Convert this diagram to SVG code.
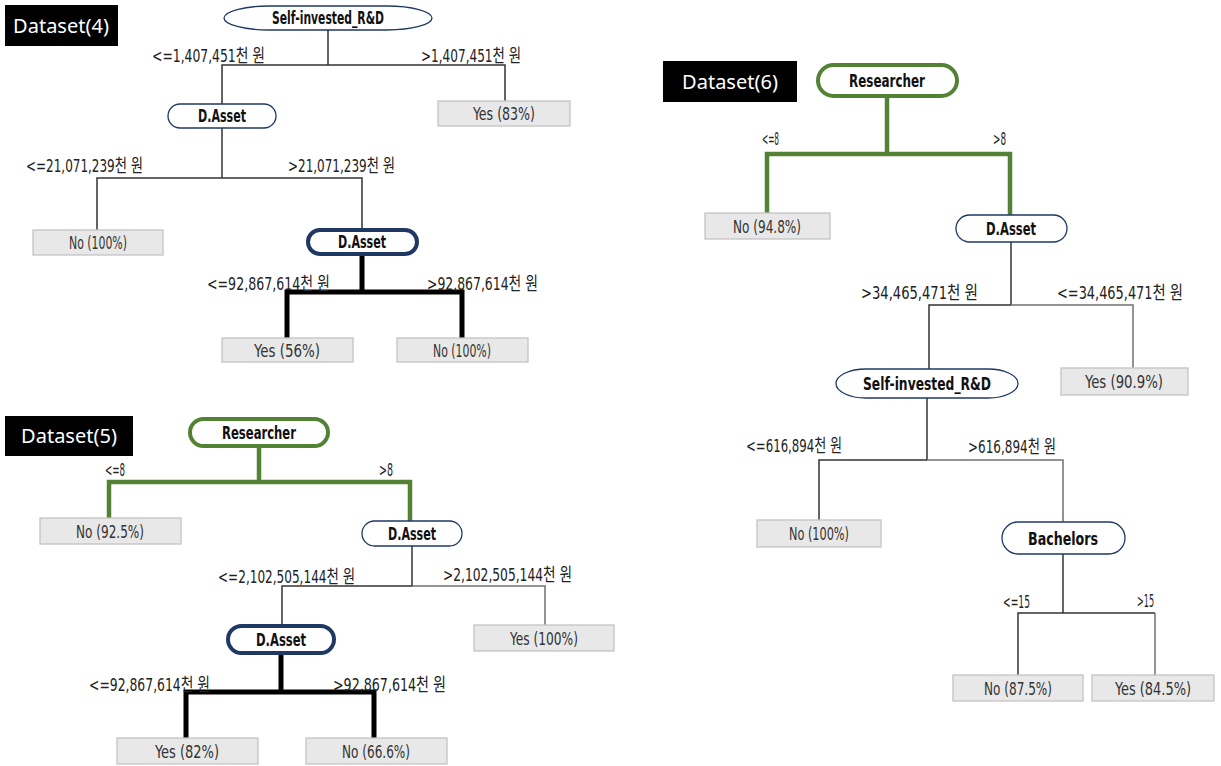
<svg xmlns="http://www.w3.org/2000/svg" width="1221" height="766" viewBox="0 0 1221 766">
<style>
.bg{fill:#fff}
.tag{fill:#000}
.tagt{fill:#fff;font-family:"Noto Sans","Open Sans",sans-serif;font-size:20px;text-anchor:middle}
.n{fill:#fff;stroke:#1f3864;stroke-width:1.3}
.nb{fill:#fff;stroke:#1f3864;stroke-width:4}
.ng{fill:#fff;stroke:#548235;stroke-width:4}
.nt{font-family:"DejaVu Sans Condensed","Liberation Sans",sans-serif;font-weight:bold;font-size:17px;fill:#111;text-anchor:middle}
.leaf{fill:#e8e8e8;stroke:#c4c4c4;stroke-width:1.3}
.lt{font-family:"DejaVu Sans Condensed","Liberation Sans",sans-serif;font-size:17px;fill:#333;text-anchor:middle}
.c{font-family:"DejaVu Sans Condensed","Liberation Sans","Noto Sans CJK KR",sans-serif;font-size:18px;fill:#222}
.e{fill:none;stroke:#333;stroke-width:1.5}
.eg{fill:none;stroke:#707070;stroke-width:1.5}
.ek{fill:none;stroke:#000;stroke-width:5}
.egr{fill:none;stroke:#548235;stroke-width:4.5}
</style>
<rect class="bg" x="0" y="0" width="1221" height="766"/>

<g id="connectors">
  <!-- Dataset 4 -->
  <polyline class="e" points="328,30 328,65"/>
  <polyline class="e" points="222,104 222,65 505,65 505,101"/>
  <polyline class="e" points="222,128 222,178"/>
  <polyline class="e" points="97,230 97,178 362,178 362,230"/>
  <polyline class="ek" points="362,254 362,292"/>
  <polyline class="ek" points="287,338 287,292 462,292 462,338"/>
  <!-- Dataset 5 -->
  <polyline class="egr" points="259,446 259,481"/>
  <polyline class="egr" points="109,518 109,482 410,482 410,521"/>
  <polyline class="e" points="412,546 412,586"/>
  <polyline class="e" points="282,626 282,586 412,586"/>
  <polyline class="eg" points="412,586 545,586 545,625"/>
  <polyline class="ek" points="281,653 281,692"/>
  <polyline class="ek" points="186,738 186,692 374,692 374,738"/>
  <!-- Dataset 6 -->
  <polyline class="egr" points="887,96 887,154"/>
  <polyline class="egr" points="767,213 767,154 1010,154 1010,215"/>
  <polyline class="e" points="1011,242 1011,305"/>
  <polyline class="e" points="929,369 929,305 1011,305"/>
  <polyline class="eg" points="1011,305 1133,305 1133,368"/>
  <polyline class="e" points="927,398 927,460"/>
  <polyline class="e" points="819,520 819,460 927,460"/>
  <polyline class="eg" points="927,460 1063,460 1063,522"/>
  <polyline class="e" points="1063,554 1063,613"/>
  <polyline class="e" points="1018,675 1018,613 1155,613"/>
  <polyline class="eg" points="1155,613 1155,675"/>
</g>

<g id="edge-labels">
  <text class="c" x="152" y="62" textLength="113" lengthAdjust="spacingAndGlyphs">&lt;=1,407,451천 원</text>
  <text class="c" x="421" y="62" textLength="100" lengthAdjust="spacingAndGlyphs">&gt;1,407,451천 원</text>
  <text class="c" x="26" y="172" textLength="117" lengthAdjust="spacingAndGlyphs">&lt;=21,071,239천 원</text>
  <text class="c" x="288" y="172" textLength="107" lengthAdjust="spacingAndGlyphs">&gt;21,071,239천 원</text>
  <text class="c" x="207" y="290" textLength="123" lengthAdjust="spacingAndGlyphs">&lt;=92,867,614천 원</text>
  <text class="c" x="427" y="290" textLength="111" lengthAdjust="spacingAndGlyphs">&gt;92,867,614천 원</text>

  <text class="c" x="105" y="476" textLength="20" lengthAdjust="spacingAndGlyphs">&lt;=8</text>
  <text class="c" x="379" y="476" textLength="14" lengthAdjust="spacingAndGlyphs">&gt;8</text>
  <text class="c" x="218" y="583" textLength="137" lengthAdjust="spacingAndGlyphs">&lt;=2,102,505,144천 원</text>
  <text class="c" x="443" y="581" textLength="129" lengthAdjust="spacingAndGlyphs">&gt;2,102,505,144천 원</text>
  <text class="c" x="89" y="691" textLength="121" lengthAdjust="spacingAndGlyphs">&lt;=92,867,614천 원</text>
  <text class="c" x="333" y="691" textLength="113" lengthAdjust="spacingAndGlyphs">&gt;92,867,614천 원</text>

  <text class="c" x="762" y="145" textLength="17" lengthAdjust="spacingAndGlyphs">&lt;=8</text>
  <text class="c" x="993" y="145" textLength="13" lengthAdjust="spacingAndGlyphs">&gt;8</text>
  <text class="c" x="861" y="299" textLength="117" lengthAdjust="spacingAndGlyphs">&gt;34,465,471천 원</text>
  <text class="c" x="1057" y="299" textLength="126" lengthAdjust="spacingAndGlyphs">&lt;=34,465,471천 원</text>
  <text class="c" x="746" y="452" textLength="96" lengthAdjust="spacingAndGlyphs">&lt;=616,894천 원</text>
  <text class="c" x="968" y="453" textLength="88" lengthAdjust="spacingAndGlyphs">&gt;616,894천 원</text>
  <text class="c" x="1003" y="608" textLength="27" lengthAdjust="spacingAndGlyphs">&lt;=15</text>
  <text class="c" x="1137" y="607" textLength="17" lengthAdjust="spacingAndGlyphs">&gt;15</text>
</g>

<!-- Dataset 4 -->
<g id="tag4"><rect class="tag" x="5" y="5" width="113" height="41"/><text class="tagt" x="61" y="33">Dataset(4)</text></g>
<g id="d4-root"><rect class="n" x="224" y="6" width="208" height="24" rx="45" ry="12"/><text class="nt" x="328" y="24" textLength="112" lengthAdjust="spacingAndGlyphs">Self-invested_R&amp;D</text></g>
<g id="d4-dasset1"><rect class="n" x="168" y="104" width="108" height="24" rx="12"/><text class="nt" x="222" y="122" textLength="48" lengthAdjust="spacingAndGlyphs">D.Asset</text></g>
<g id="d4-yes83"><rect class="leaf" x="438" y="101" width="132" height="25"/><text class="lt" x="504" y="120" textLength="62" lengthAdjust="spacingAndGlyphs">Yes (83%)</text></g>
<g id="d4-no100a"><rect class="leaf" x="33" y="230" width="130" height="25"/><text class="lt" x="98" y="249" textLength="58" lengthAdjust="spacingAndGlyphs">No (100%)</text></g>
<g id="d4-dasset2"><rect class="nb" x="308" y="230" width="109" height="24" rx="12"/><text class="nt" x="362" y="248" textLength="48" lengthAdjust="spacingAndGlyphs">D.Asset</text></g>
<g id="d4-yes56"><rect class="leaf" x="222" y="338" width="131" height="24"/><text class="lt" x="287" y="356.5" textLength="66" lengthAdjust="spacingAndGlyphs">Yes (56%)</text></g>
<g id="d4-no100b"><rect class="leaf" x="397" y="338" width="131" height="24"/><text class="lt" x="462" y="356.5" textLength="58" lengthAdjust="spacingAndGlyphs">No (100%)</text></g>

<!-- Dataset 5 -->
<g id="tag5"><rect class="tag" x="5" y="416" width="128" height="40"/><text class="tagt" x="69" y="443">Dataset(5)</text></g>
<g id="d5-root"><rect class="ng" x="190" y="419" width="138" height="27" rx="13.5"/><text class="nt" x="259" y="438.5" textLength="74" lengthAdjust="spacingAndGlyphs">Researcher</text></g>
<g id="d5-no925"><rect class="leaf" x="40" y="518" width="141" height="26"/><text class="lt" x="110" y="537.5" textLength="68" lengthAdjust="spacingAndGlyphs">No (92.5%)</text></g>
<g id="d5-dasset1"><rect class="n" x="362" y="521" width="100" height="25" rx="12.5"/><text class="nt" x="412" y="539.5" textLength="48" lengthAdjust="spacingAndGlyphs">D.Asset</text></g>
<g id="d5-dasset2"><rect class="nb" x="228" y="626" width="106" height="27" rx="13.5"/><text class="nt" x="281" y="645.5" textLength="50" lengthAdjust="spacingAndGlyphs">D.Asset</text></g>
<g id="d5-yes100"><rect class="leaf" x="474" y="625" width="140" height="26"/><text class="lt" x="544" y="644.5" textLength="68" lengthAdjust="spacingAndGlyphs">Yes (100%)</text></g>
<g id="d5-yes82"><rect class="leaf" x="117" y="738" width="141" height="26"/><text class="lt" x="187" y="757.5" textLength="64" lengthAdjust="spacingAndGlyphs">Yes (82%)</text></g>
<g id="d5-no666"><rect class="leaf" x="306" y="738" width="141" height="26"/><text class="lt" x="376" y="757.5" textLength="68" lengthAdjust="spacingAndGlyphs">No (66.6%)</text></g>

<!-- Dataset 6 -->
<g id="tag6"><rect class="tag" x="663" y="61" width="134" height="41"/><text class="tagt" x="730" y="89">Dataset(6)</text></g>
<g id="d6-root"><rect class="ng" x="818" y="65" width="139" height="31" rx="15.5"/><text class="nt" x="887" y="86.5" textLength="76" lengthAdjust="spacingAndGlyphs">Researcher</text></g>
<g id="d6-no948"><rect class="leaf" x="705" y="213" width="125" height="26"/><text class="lt" x="767" y="232.5" textLength="68" lengthAdjust="spacingAndGlyphs">No (94.8%)</text></g>
<g id="d6-dasset"><rect class="n" x="956" y="215" width="111" height="27" rx="13.5"/><text class="nt" x="1011" y="234.5" textLength="50" lengthAdjust="spacingAndGlyphs">D.Asset</text></g>
<g id="d6-self"><rect class="n" x="836" y="369" width="182" height="29" rx="30" ry="14.5"/><text class="nt" x="927" y="389.5" textLength="128" lengthAdjust="spacingAndGlyphs">Self-invested_R&amp;D</text></g>
<g id="d6-yes909"><rect class="leaf" x="1061" y="368" width="127" height="27"/><text class="lt" x="1124" y="388" textLength="78" lengthAdjust="spacingAndGlyphs">Yes (90.9%)</text></g>
<g id="d6-no100"><rect class="leaf" x="757" y="520" width="124" height="27"/><text class="lt" x="819" y="540" textLength="60" lengthAdjust="spacingAndGlyphs">No (100%)</text></g>
<g id="d6-bach"><rect class="n" x="1002" y="522" width="123" height="32" rx="16"/><text class="nt" x="1063" y="544.5" textLength="70" lengthAdjust="spacingAndGlyphs">Bachelors</text></g>
<g id="d6-no875"><rect class="leaf" x="953" y="675" width="130" height="26"/><text class="lt" x="1018" y="694.5" textLength="68" lengthAdjust="spacingAndGlyphs">No (87.5%)</text></g>
<g id="d6-yes845"><rect class="leaf" x="1092" y="675" width="122" height="26"/><text class="lt" x="1153" y="694.5" textLength="76" lengthAdjust="spacingAndGlyphs">Yes (84.5%)</text></g>
</svg>
